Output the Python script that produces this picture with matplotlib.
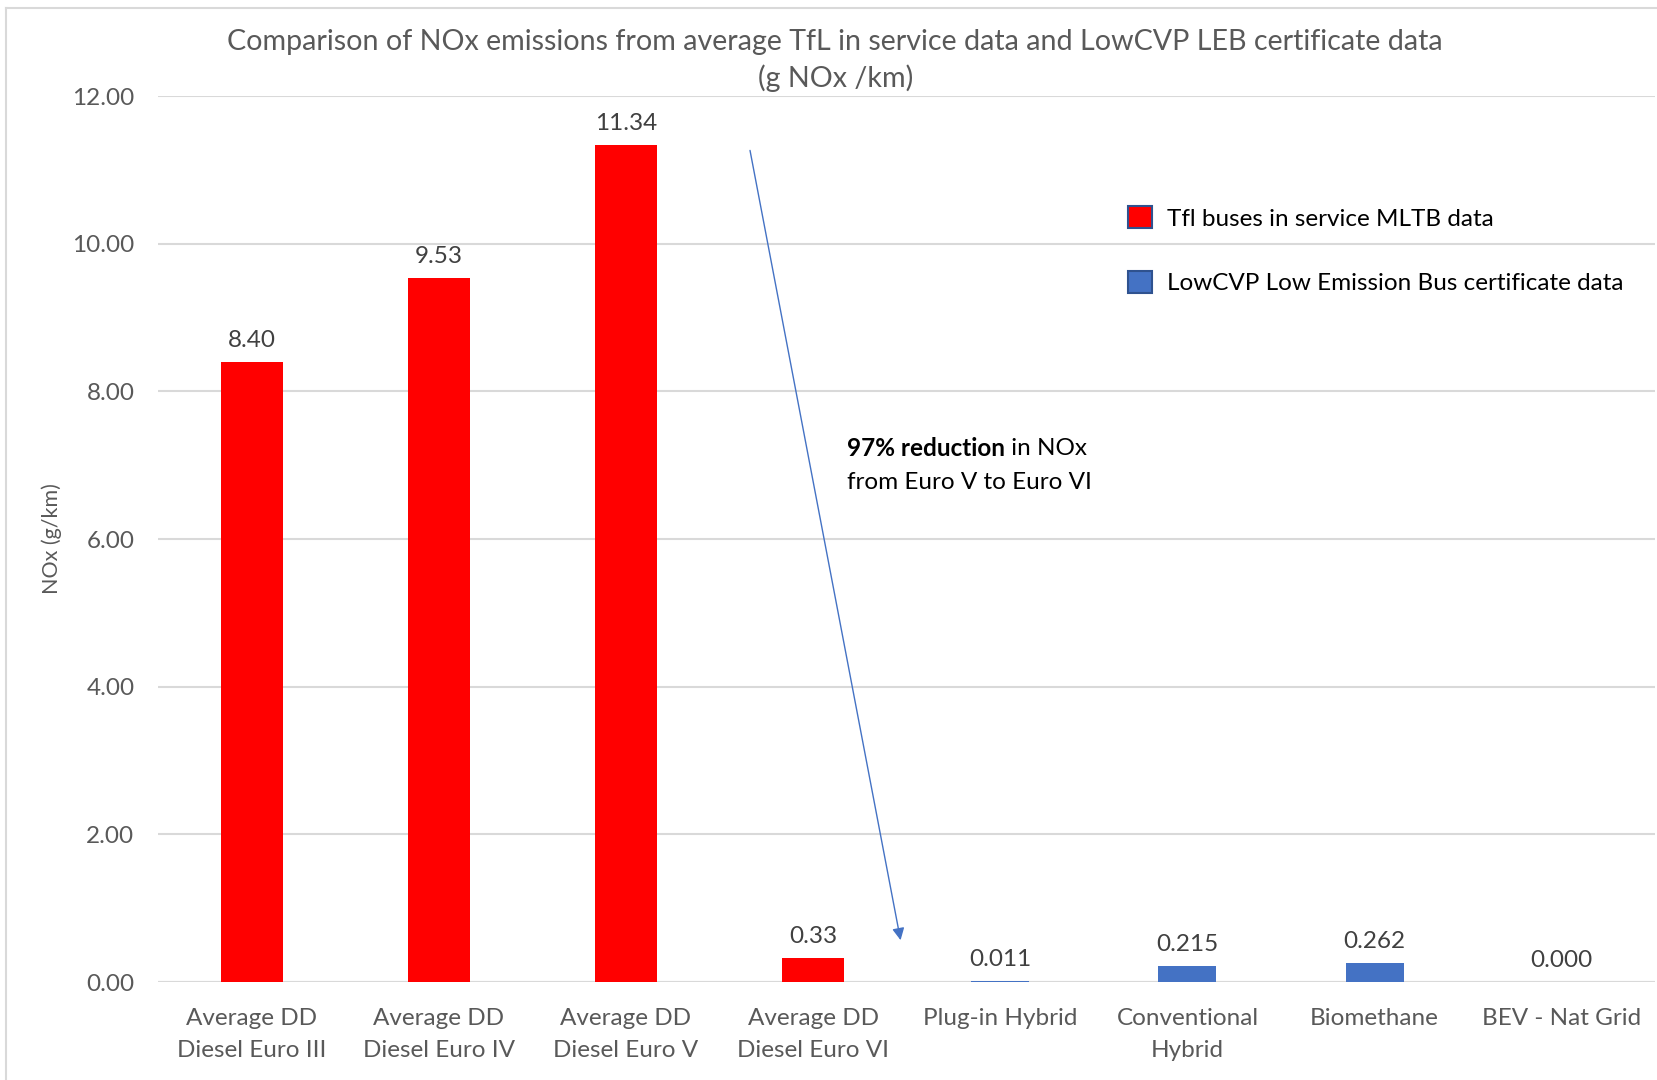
import matplotlib
matplotlib.use('Agg')
from matplotlib import pyplot as plt
from matplotlib.lines import Line2D

plt.rcParams['font.family'] = ['Lato', 'DejaVu Sans']

categories = ['Average DD\nDiesel Euro III', 'Average DD\nDiesel Euro IV', 'Average DD\nDiesel Euro V',
              'Average DD\nDiesel Euro VI', 'Plug-in Hybrid', 'Conventional\nHybrid', 'Biomethane',
              'BEV - Nat Grid']
tfl_values = [8.40, 9.53, 11.34, 0.33]
leb_values = [0.011, 0.215, 0.262, 0.000]
tfl_label = 'Tfl buses in service MLTB data'
leb_label = 'LowCVP Low Emission Bus certificate data'
yticks = [0, 2, 4, 6, 8, 10, 12]

grey = '#595959'
grid = '#D9D9D9'
fs = 17.5

fig = plt.figure(figsize=(16.57, 10.8), dpi=100)
ax = fig.add_axes([0.0954, 0.0907, 0.9036, 0.8204])

x_tfl = list(range(len(tfl_values)))
x_leb = list(range(len(tfl_values), len(categories)))
b1 = ax.bar(x_tfl, tfl_values, width=0.33, color='#FF0000', label=tfl_label, zorder=3)
b2 = ax.bar(x_leb, leb_values, width=0.31, color='#4472C4', label=leb_label, zorder=3)

for x, v in zip(x_tfl, tfl_values):
    ax.annotate('%.2f' % v, (x, v), xytext=(0, 8), textcoords='offset points',
                ha='center', va='bottom', fontsize=fs, color='#404040')
for x, v in zip(x_leb, leb_values):
    ax.annotate('%.3f' % v, (x, v), xytext=(0, 8), textcoords='offset points',
                ha='center', va='bottom', fontsize=fs, color='#404040')

ax.set_xlim(-0.5, len(categories) - 0.5)
ax.set_ylim(0, 12)
ax.set_yticks(yticks)
ax.set_yticklabels(['%.2f' % t for t in yticks])
ax.set_xticks(range(len(categories)))
ax.set_xticklabels(categories, linespacing=1.6)
ax.tick_params(axis='both', length=0, labelsize=fs, labelcolor=grey)
ax.tick_params(axis='y', pad=17)
ax.tick_params(axis='x', pad=19)
ax.yaxis.grid(True, color=grid, linewidth=1.5, zorder=0)
for s in ax.spines.values():
    s.set_visible(False)
ax.axhline(0, color=grid, linewidth=1.5, zorder=2)
ax.set_ylabel('NOx (g/km)', fontsize=15.5, color=grey)
ax.yaxis.set_label_coords(-0.064, 0.5)

fig.text(0.504, 0.944, 'Comparison of NOx emissions from average TfL in service data and LowCVP LEB certificate data\n(g NOx /km)',
         ha='center', va='center', fontsize=20.6, color=grey, linespacing=1.45)

# arrow and note
ax.annotate('', xy=(3.47, 0.53), xytext=(2.66, 11.30),
            arrowprops=dict(arrowstyle='-|>', color='#4472C4', lw=1, mutation_scale=18))
t = ax.text(3.18, 7.22, '97% reduction', fontsize=fs, fontweight='bold', va='center', ha='left', color='black')
ax.annotate(' in NOx', xy=(1, 0.5), xycoords=t, va='center', ha='left', fontsize=fs, color='black')
ax.text(3.18, 6.77, 'from Euro V to Euro VI', fontsize=fs, va='center', ha='left', color='black')

leg = ax.legend(handles=[b1, b2], loc='upper left', bbox_to_anchor=(0.633, 0.9), frameon=False,
                fontsize=fs, labelspacing=1.7, handlelength=1.0, handleheight=1.0, handletextpad=0.6)
for p in leg.get_patches():
    p.set_edgecolor('#2F528F')
    p.set_linewidth(1.5)
for txt in leg.get_texts():
    txt.set_color('black')

# chart border
fig.add_artist(Line2D([6 / 1657, 1], [1 - 8 / 1080, 1 - 8 / 1080], transform=fig.transFigure, color=grid, lw=1.5))
fig.add_artist(Line2D([6 / 1657, 6 / 1657], [0, 1 - 8 / 1080], transform=fig.transFigure, color=grid, lw=1.5))

fig.savefig('out.png', dpi=100)
